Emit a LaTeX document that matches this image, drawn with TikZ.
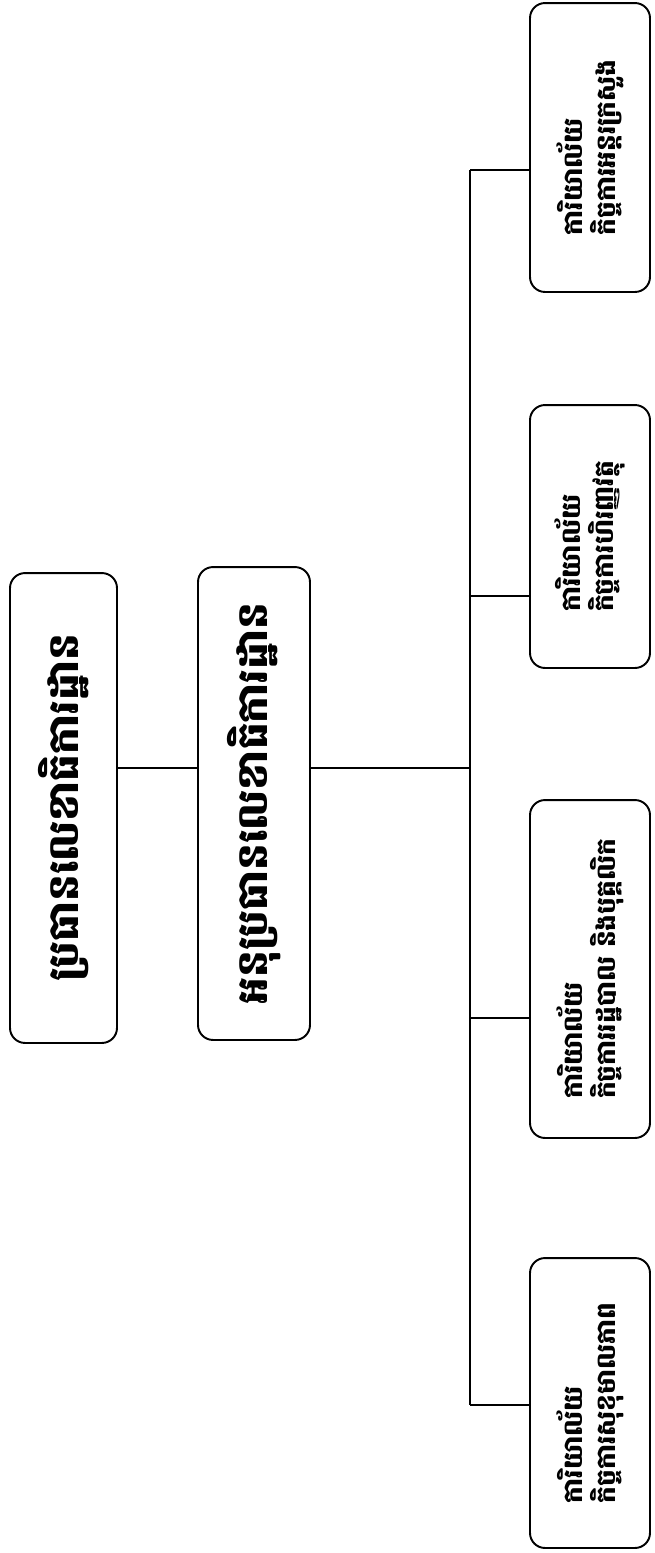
\documentclass[tikz,border=0pt]{standalone}
\usepackage{fontspec}
\newfontfamily\khmer[Script=Khmer]{Battambang}
\usetikzlibrary{positioning}

\tikzset{
  office/.style={draw, line width=1.1pt, rounded corners=0.3cm, rotate=90,
    align=left, inner sep=0pt, minimum height=2.4cm,
    font=\khmer\bfseries\fontsize{15}{19}\selectfont},
  head/.style={office, align=center, font=\khmer\bfseries\fontsize{24}{28}\selectfont},
  link/.style={line width=0.9pt}
}

\begin{document}
\begin{tikzpicture}[x=0.02cm, y=-0.02cm]
\useasboundingbox (0,0) rectangle (655,1553);

% head and deputy
\node[head, minimum width=9.4cm, minimum height=2.14cm] (head) at (63.5,808) {ប្រធានលេខាធិការដ្ឋាន};
\node[head, minimum width=9.46cm, minimum height=2.24cm] (deputy) at (254,803.5) {អនុប្រធានលេខាធិការដ្ឋាន};

% offices
\node[office, minimum width=5.78cm] (interior) at (590,147.5) {ការិយាល័យ\\កិច្ចការអន្តរក្រសួង};
\node[office, minimum width=5.26cm] (finance) at (590,536.5) {ការិយាល័យ\\កិច្ចការហិរញ្ញវត្ថុ};
\node[office, minimum width=6.76cm] (admin) at (590,969) {ការិយាល័យ\\កិច្ចការរដ្ឋបាល និងបុគ្គលិក};
\node[office, minimum width=5.8cm] (welfare) at (590,1403) {ការិយាល័យ\\កិច្ចការសុខុមាលភាព};

% bus
\coordinate (mid) at (470,768);
\coordinate (bustop) at (470,170);
\coordinate (busfin) at (470,596);
\coordinate (busadm) at (470,1018);
\coordinate (busbot) at (470,1405);

\draw[link] (head.south |- mid) -- (deputy.north |- mid);
\draw[link] (deputy.south |- mid) -- (mid);
\draw[link] (bustop) -- (busbot);
\draw[link] (bustop) -- (interior.north |- bustop);
\draw[link] (busfin) -- (finance.north |- busfin);
\draw[link] (busadm) -- (admin.north |- busadm);
\draw[link] (busbot) -- (welfare.north |- busbot);
\end{tikzpicture}
\end{document}
